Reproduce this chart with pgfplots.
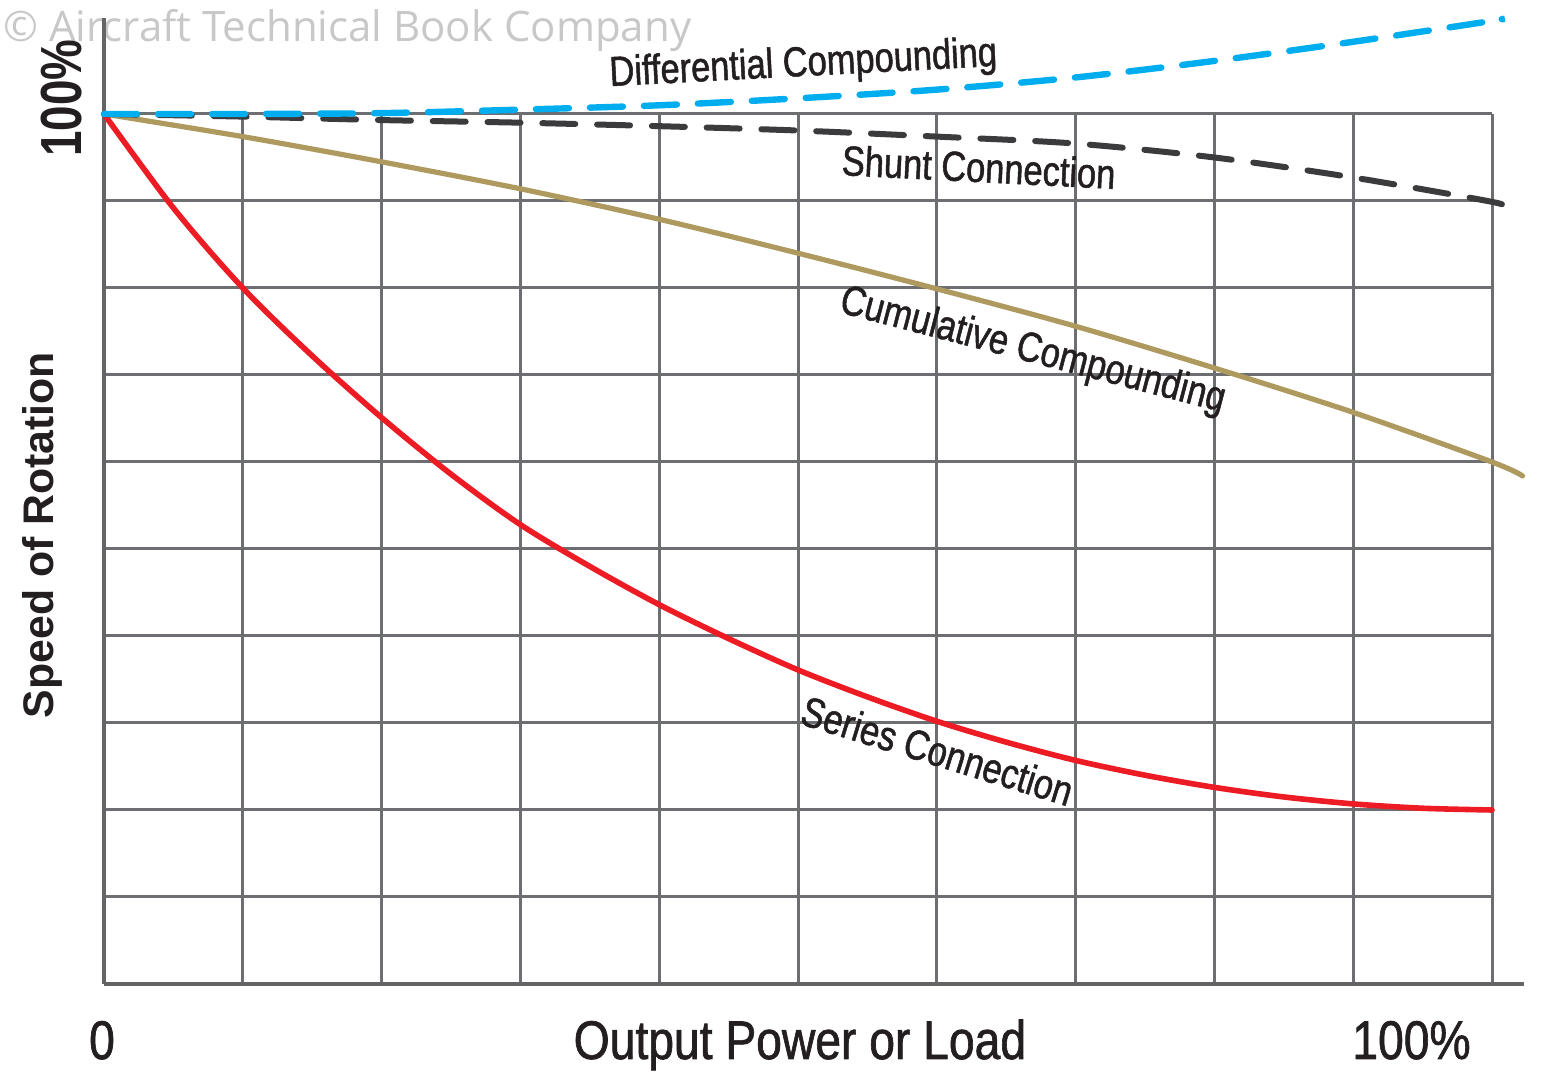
\documentclass[border=0pt]{standalone}
\usepackage{fontspec}
\setmainfont{Liberation Sans}
\newfontfamily\condfont{Liberation Sans}[FakeStretch=0.82,FakeBold=1.2]
\newfontfamily\axfont{Liberation Sans}[FakeStretch=0.85,FakeBold=1.2]
\newfontfamily\condboldfont{Liberation Sans Bold}[FakeStretch=0.79]
\newfontfamily\boldfont{Liberation Sans Bold}
\newfontfamily\wmfont{Open Sans}
\usepackage{pgfplots}
\pgfplotsset{compat=1.18}
\definecolor{gridgray}{HTML}{6D6E71}
\definecolor{axgray}{HTML}{646466}
\definecolor{sred}{HTML}{ED1C24}
\definecolor{stan}{HTML}{AE9A5F}
\definecolor{sblue}{HTML}{00AEEF}
\definecolor{sdark}{HTML}{3B3B3D}
\definecolor{wm}{HTML}{C8C8C8}
\definecolor{txt}{HTML}{231F20}
\begin{document}
\begin{tikzpicture}
\begin{axis}[
  scale only axis, width=694pt, height=435pt,
  xmin=0, xmax=10, ymin=0, ymax=10,
  xtick={0,...,10}, ytick={0,...,10},
  xticklabel=\relax, yticklabel=\relax,
  tick label style={opacity=0},
  major tick length=0pt,
  axis line style={draw=none},
  grid=major,
  grid style={line width=1.5pt, color=gridgray},
  clip=false,
]
\coordinate (bl) at (axis cs:-0.74928,-1.10345);
\coordinate (tr) at (axis cs:10.36744,11.31034);
% watermark
\node[anchor=base west, inner sep=0pt, text=wm, font=\wmfont\fontsize{21}{25}\selectfont] at (axis cs:-0.7277,10.828) {© Aircraft Technical Book Company};
% axis lines
\draw[axgray, line width=1.6pt] (axis cs:0,0) -- (axis cs:0,11.103);
\draw[axgray, line width=2pt] (axis cs:0,0) -- (axis cs:10.23,0);
% Cumulative compounding
\addplot[stan, line width=2.6pt, smooth, line cap=round, line join=round] coordinates {
(0,10) (1,9.74) (2,9.45) (3,9.14) (4,8.79) (5,8.40) (6,7.99) (7,7.56) (8,7.08) (9,6.57) (10,6.0) (10.22,5.84)};
% Series connection
\addplot[sred, line width=2.8pt, smooth, line cap=round, line join=round] coordinates {
(0,10) (0.5,8.92) (1,8.0) (1.5,7.22) (2,6.51) (2.5,5.86) (3,5.28) (3.5,4.80) (4,4.36) (4.5,3.97) (5,3.61) (5.5,3.30) (6,3.02) (6.5,2.78) (7,2.57) (7.5,2.40) (8,2.26) (8.5,2.15) (9,2.07) (9.5,2.02) (10,2.0)};
% Shunt connection
\addplot[sdark, line width=3pt, smooth, line cap=round, dash pattern=on 16.5pt off 10.9pt] coordinates {
(0,10) (1,9.97) (2,9.93) (3,9.90) (4,9.86) (5,9.81) (6,9.74) (7,9.66) (8,9.50) (9,9.27) (10,8.99) (10.08,8.93)};
% Differential compounding
\addplot[sblue, line width=3.2pt, smooth, line cap=round, dash pattern=on 16.5pt off 10.5pt] coordinates {
(0,10) (1,10.0) (2,10.01) (3,10.05) (4,10.10) (5,10.18) (6,10.28) (7,10.42) (8,10.61) (9,10.83) (10,11.07) (10.07,11.09)};
% curve labels
\node[anchor=base, inner sep=0pt, text=txt, rotate=3, font=\condfont\fontsize{21}{25}\selectfont] at (axis cs:5.043,10.437) {Differential Compounding};
\node[anchor=base, inner sep=0pt, text=txt, rotate=-2.9, font=\condfont\fontsize{21}{25}\selectfont] at (axis cs:6.297,9.218) {Shunt Connection};
\node[anchor=base, inner sep=0pt, text=txt, rotate=-14.6, font=\condfont\fontsize{21}{25}\selectfont] at (axis cs:6.671,7.149) {Cumulative Compounding};
\node[anchor=base, inner sep=0pt, text=txt, rotate=-17.1, font=\condfont\fontsize{21}{25}\selectfont] at (axis cs:5.973,2.517) {Series Connection};
% axis texts
\node[anchor=center, inner sep=0pt, text=txt, rotate=90, font=\condboldfont\fontsize{29}{34}\selectfont] at (axis cs:-0.3026,10.184) {100\%};
\node[anchor=center, inner sep=0pt, text=txt, rotate=90, font=\boldfont\fontsize{21.4}{26}\selectfont] at (axis cs:-0.4467,5.161) {Speed of Rotation};
\node[anchor=base, inner sep=0pt, text=txt, font=\axfont\fontsize{27.2}{32}\selectfont] at (axis cs:-0.0144,-0.862) {0};
\node[anchor=base, inner sep=0pt, text=txt, font=\axfont\fontsize{27.2}{32}\selectfont] at (axis cs:5.014,-0.862) {Output Power or Load};
\node[anchor=base, inner sep=0pt, text=txt, font=\axfont\fontsize{27.2}{32}\selectfont] at (axis cs:9.42,-0.862) {100\%};
\end{axis}
\pgfresetboundingbox
\path[use as bounding box] (bl) rectangle (tr);
\end{tikzpicture}
\end{document}
